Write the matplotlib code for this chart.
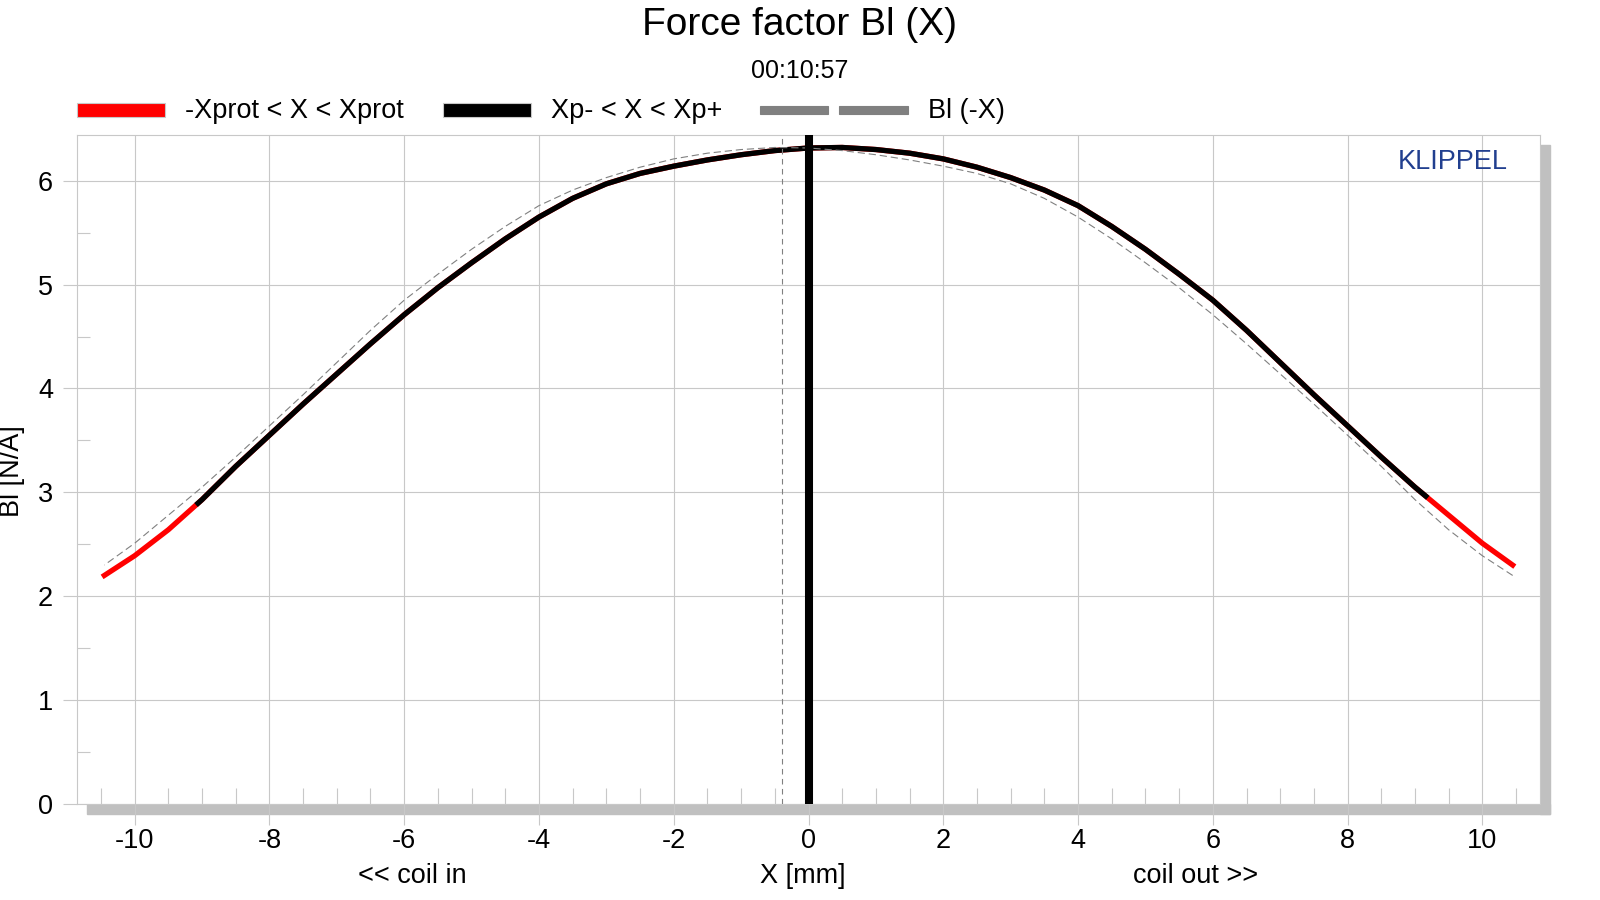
# Force factor Bl(X) of the loudspeaker, Klippel-style chart

import numpy as np
import matplotlib
matplotlib.use("Agg")
import matplotlib.pyplot as plt
from matplotlib.patches import Rectangle

plt.rcParams['font.family'] = ['Liberation Sans', 'DejaVu Sans']
plt.rcParams['axes.unicode_minus'] = False

x_mm = [-10.45, -10.0, -9.5, -9.0, -8.5, -8.0, -7.5, -7.0, -6.5, -6.0,
        -5.5, -5.0, -4.5, -4.0, -3.5, -3.0, -2.5, -2.0, -1.5, -1.0,
        -0.5, 0.0, 0.5, 1.0, 1.5, 2.0, 2.5, 3.0, 3.5, 4.0,
        4.5, 5.0, 5.5, 6.0, 6.5, 7.0, 7.5, 8.0, 8.5, 9.0,
        9.5, 10.0, 10.45]
bl_na = [2.20, 2.39, 2.64, 2.93, 3.25, 3.55, 3.85, 4.14, 4.43, 4.71,
         4.97, 5.21, 5.44, 5.65, 5.83, 5.97, 6.07, 6.14, 6.20, 6.25,
         6.29, 6.315, 6.32, 6.30, 6.265, 6.21, 6.13, 6.03, 5.91, 5.76,
         5.56, 5.34, 5.10, 4.85, 4.56, 4.25, 3.94, 3.64, 3.34, 3.05,
         2.78, 2.51, 2.30]

# limits of the range shown in black
xp_minus = -9.06
xp_plus = 9.16
# rest position marker (dashed) and x = 0 (thick)
x_rest = -0.40

legend_labels = ["-Xprot < X < Xprot", "Xp- < X < Xp+", "Bl (-X)"]

x = np.array(x_mm)
bl = np.array(bl_na)

W, H = 1600, 900
fig = plt.figure(figsize=(16, 9), dpi=100)

# axes box in pixels
ax_l, ax_r, ax_t, ax_b = 76.7, 1540.3, 135, 804
ax = fig.add_axes([ax_l / W, 1 - ax_b / H, (ax_r - ax_l) / W, (ax_b - ax_t) / H])

# drop shadow right and below the plot area
shadow = '#c0c0c0'
fig.patches.append(Rectangle(((ax_l + 10) / W, 1 - (ax_b + 10) / H), (ax_r - ax_l) / W, 10 / H,
                             transform=fig.transFigure, color=shadow, zorder=-1))
fig.patches.append(Rectangle((ax_r / W, 1 - (ax_b + 10) / H), 10 / W, (ax_b - ax_t) / H,
                             transform=fig.transFigure, color=shadow, zorder=-1))

grid_c = '#c8c8c8'
ax.grid(True, which='major', color=grid_c, linewidth=0.8, zorder=0)
for s in ax.spines.values():
    s.set_color(grid_c)
    s.set_linewidth(0.8)

# curves
ax.plot(x, bl, color='red', linewidth=3.8, zorder=3)
mask = (x > xp_minus) & (x < xp_plus)
xb = np.concatenate([[xp_minus], x[mask], [xp_plus]])
yb = np.concatenate([[np.interp(xp_minus, x, bl)], bl[mask], [np.interp(xp_plus, x, bl)]])
ax.plot(xb, yb, color='black', linewidth=3.8, zorder=4)
ax.plot(-x, bl, color='#808080', linewidth=0.8, dashes=(6.5, 3.5), zorder=5)

ax.axvline(x_rest, color='#808080', linewidth=0.8, dashes=(5, 4), zorder=5)
ax.axvline(0, color='black', linewidth=5.8, zorder=6)

ax.set_xlim(-10.86, 10.86)
ax.set_ylim(0, 6.44)
ax.set_xticks(np.arange(-10, 11, 2))
ax.set_xticks(np.arange(-10.5, 10.6, 0.5), minor=True)
ax.set_yticks(np.arange(0, 7, 1))
ax.set_yticks(np.arange(0.5, 6.5, 1), minor=True)

ax.tick_params(axis='x', which='major', direction='out', length=15, width=0.8,
               color=grid_c, labelsize=19.5, pad=2.5)
ax.tick_params(axis='x', which='minor', direction='in', length=11.5, width=0.8, color=grid_c)
ax.tick_params(axis='y', which='major', direction='out', length=10, width=0.8,
               color=grid_c, labelsize=19.5, pad=7)
ax.tick_params(axis='y', which='minor', direction='in', length=9.5, width=0.8, color=grid_c)

ax.text(1508 / W, 1 - 162 / H, "KLIPPEL", transform=fig.transFigure, ha='right', va='center',
        fontsize=19.5, color='#213f8f')

# titles and axis texts
fig.text(800 / W, 1 - 25 / H, "Force factor Bl (X)", ha='center', va='center', fontsize=28)
fig.text(800 / W, 1 - 71 / H, "00:10:57", ha='center', va='center', fontsize=18)
fig.text(803 / W, 1 - 876 / H, "X [mm]", ha='center', va='center', fontsize=19.5)
fig.text(412 / W, 1 - 876 / H, "<< coil in", ha='center', va='center', fontsize=19.5)
fig.text(1196 / W, 1 - 876 / H, "coil out >>", ha='center', va='center', fontsize=19.5)
fig.text(12 / W, 1 - 471 / H, "Bl [N/A]", ha='center', va='center', rotation=90, fontsize=19.5)

# legend row drawn by hand (the dashed entry has a longer sample)
ly = 110
def bar(x0, x1, h, color, edge=None):
    fig.patches.append(Rectangle((x0 / W, 1 - (ly + h / 2) / H), (x1 - x0) / W, h / H,
                                 transform=fig.transFigure, facecolor=color,
                                 edgecolor=edge if edge else color, linewidth=0.8))

bar(76.5, 165.3, 14.7, 'red', grid_c)
fig.text(185 / W, 1 - (ly + 1) / H, legend_labels[0], ha='left', va='center', fontsize=19.5)
bar(443, 531, 14.7, 'black', grid_c)
fig.text(551 / W, 1 - (ly + 1) / H, legend_labels[1], ha='left', va='center', fontsize=19.5)
bar(760, 828, 7.7, '#808080')
bar(839, 908, 7.7, '#808080')
fig.text(928 / W, 1 - (ly + 1) / H, legend_labels[2], ha='left', va='center', fontsize=19.5)

fig.savefig("out.png", dpi=100)
